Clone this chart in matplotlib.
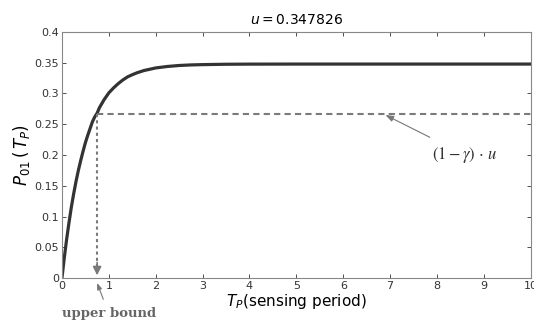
import matplotlib
matplotlib.use("Agg")
import matplotlib.pyplot as plt

# Data
t_vals = [0, 0.05, 0.1, 0.15, 0.2, 0.25, 0.3, 0.35, 0.4, 0.45, 0.5, 0.55, 0.6, 0.65, 0.7, 0.75, 0.8,
          0.9, 1.0, 1.1, 1.2, 1.3, 1.4, 1.5, 1.6, 1.75, 2.0, 2.25, 2.5, 2.75, 3.0, 3.5, 4.0,
          5.0, 6.0, 7.0, 8.0, 9.0, 10.0]
p_vals = [0, 0.033, 0.063, 0.090, 0.115, 0.137, 0.157, 0.175, 0.191, 0.206, 0.220, 0.232, 0.243, 0.254,
          0.262, 0.268, 0.277, 0.290, 0.301, 0.309, 0.316, 0.322, 0.327, 0.3305, 0.3336, 0.3373,
          0.3415, 0.3439, 0.3455, 0.3464, 0.3469, 0.3475, 0.3477,
          0.3478, 0.3478, 0.3478, 0.3478, 0.3478, 0.3478]
u_value = 0.347826
bound_level = 0.267
upper_bound_t = 0.75
x_ticks = [0, 1, 2, 3, 4, 5, 6, 7, 8, 9, 10]
y_ticks = [0, 0.05, 0.1, 0.15, 0.2, 0.25, 0.3, 0.35, 0.4]
y_ticklabels = ["0", "0.05", "0.1", "0.15", "0.2", "0.25", "0.3", "0.35", "0.4"]

fig = plt.figure(figsize=(5.34, 3.26), dpi=100)
ax = fig.add_axes([0.116, 0.147, 0.878, 0.755])

ax.plot(t_vals, p_vals, color="#333333", lw=2.3, solid_capstyle="round", solid_joinstyle="round")
ax.plot([upper_bound_t, 10], [bound_level, bound_level], ls=(0, (3, 2)), color="#7a7a7a", lw=1.5)
ax.plot([upper_bound_t, upper_bound_t], [bound_level, 0.012], ls=(0, (1.5, 1.5)), color="#7a7a7a", lw=1.5)
ax.annotate("", xy=(upper_bound_t, 0.0), xytext=(upper_bound_t, 0.03),
            arrowprops=dict(arrowstyle="-|>,head_width=0.25,head_length=0.5", color="#7a7a7a", lw=1.2))

ax.set_xlim(0, 10)
ax.set_ylim(0, 0.4)
ax.set_xticks(x_ticks)
ax.set_yticks(y_ticks)
ax.set_yticklabels(y_ticklabels)
ax.tick_params(direction="in", length=3, width=0.6, top=True, right=True, labelsize=8, colors="#333333", pad=2)
for s in ax.spines.values():
    s.set_color("#888888")
    s.set_linewidth(0.8)

ax.set_title(r"$u = 0.347826$", fontsize=10, pad=6)
ax.set_ylabel(r"$P_{01}\,(\,T_P)$", fontsize=12, labelpad=2)
ax.set_xlabel(r"$T_P$(sensing period)", fontsize=11, labelpad=1)

ax.annotate(r"$(1-\gamma)\,\cdot\,u$", xy=(6.9, 0.265), xytext=(8.6, 0.2),
            fontsize=12, color="#333333", ha="center", va="center", math_fontfamily="stix",
            arrowprops=dict(arrowstyle="-|>,head_width=0.15,head_length=0.4", color="#777777", lw=0.8,
                            shrinkB=0, shrinkA=8))
ax.annotate("upper bound", xy=(upper_bound_t, -0.008), xytext=(1.0, -0.058),
            xycoords="data", textcoords="data", annotation_clip=False,
            fontsize=9.5, color="#666666", ha="center", va="center", family="serif", weight="bold",
            arrowprops=dict(arrowstyle="-|>,head_width=0.15,head_length=0.4", color="#777777", lw=0.8,
                            shrinkB=0, shrinkA=4))

fig.savefig("out.png", dpi=100)
